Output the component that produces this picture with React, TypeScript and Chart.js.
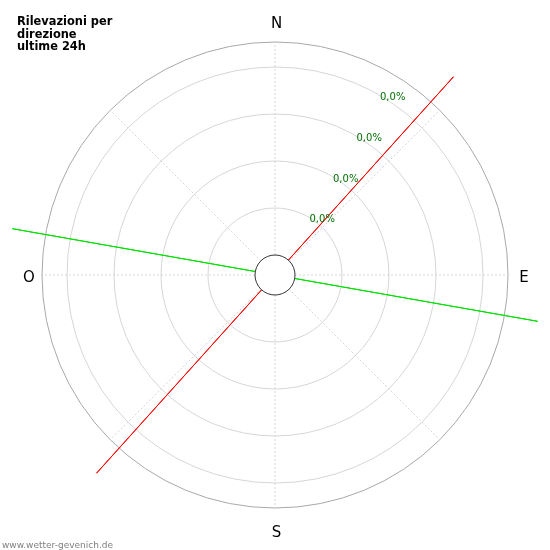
import React, { useEffect, useRef } from 'react';
import { Chart, registerables } from 'chart.js';

Chart.register(...registerables);

// ---- data ----
const cardinalLabels = ['N', 'E', 'S', 'O'];
const cardinalAngles = [0, 90, 180, 270];
const ringValues = [1, 2, 3, 4];
const ringLabels = ['0,0%', '0,0%', '0,0%', '0,0%'];
const seriesAngles = [42, 100];
const seriesValues = [5.25, 5.25];
const seriesColors = ['#ff0000', '#00e000'];
const titleLines = ['Rilevazioni per', 'direzione', 'ultime 24h'];
const footerText = 'www.wetter-gevenich.de';

// ---- scale setup ----
const DIRECTIONS = 360;
const SCALE_MIN = -20 / 47;
const SCALE_MAX = 213 / 47;
const LABEL_ANGLE = 30;

const angleIndex = Array.from({ length: DIRECTIONS }, (_, i) => String(i));

function lineData(angle: number, value: number) {
  const arr: (number | null)[] = new Array(DIRECTIONS).fill(null);
  arr[angle % DIRECTIONS] = value;
  arr[(angle + 180) % DIRECTIONS] = value;
  return arr;
}

const overlayPlugin = {
  id: 'overlay',
  afterDatasetsDraw(chart: any) {
    const s = chart.scales.r;
    const ctx = chart.ctx;
    const r0 = s.getDistanceFromCenterForValue(0);
    ctx.save();
    ctx.beginPath();
    ctx.arc(s.xCenter, s.yCenter, r0, 0, Math.PI * 2);
    ctx.fillStyle = '#ffffff';
    ctx.fill();
    ctx.lineWidth = 1;
    ctx.strokeStyle = '#333333';
    ctx.stroke();
    ctx.restore();
  },
  afterDraw(chart: any) {
    const s = chart.scales.r;
    const ctx = chart.ctx;
    const outer = s.getDistanceFromCenterForValue(SCALE_MAX);
    ctx.save();
    // ring labels
    ctx.font = '10px "DejaVu Sans"';
    ctx.fillStyle = '#007000';
    ctx.textAlign = 'left';
    ctx.textBaseline = 'alphabetic';
    ringValues.forEach((v, i) => {
      const p = s.getPointPosition(LABEL_ANGLE, s.getDistanceFromCenterForValue(v));
      ctx.fillText(ringLabels[i], p.x + 1, p.y + 5.5);
    });
    // cardinal labels
    ctx.font = '15px "DejaVu Sans"';
    ctx.fillStyle = '#000000';
    ctx.textAlign = 'center';
    cardinalLabels.forEach((lab, i) => {
      const a = cardinalAngles[i];
      const extra = a % 180 === 0 ? 21.5 : 14.5;
      const p = s.getPointPosition(a, outer + extra);
      ctx.fillText(lab, p.x + 1.5, p.y + 7);
    });
    // title
    ctx.font = 'bold 11.4px "DejaVu Sans"';
    ctx.textAlign = 'left';
    ctx.fillStyle = '#000000';
    titleLines.forEach((t, i) => ctx.fillText(t, 17, 25 + i * 12.5));
    // footer
    ctx.font = '9px "DejaVu Sans"';
    ctx.fillStyle = '#808080';
    ctx.fillText(footerText, 2, 548);
    ctx.restore();
  },
};

export default function App() {
  const ref = useRef<HTMLCanvasElement>(null);
  useEffect(() => {
    if (!ref.current) return;
    const chart = new Chart(ref.current, {
      type: 'radar',
      data: {
        labels: angleIndex,
        datasets: seriesAngles.map((a, i) => ({
          data: lineData(a, seriesValues[i]),
          borderColor: seriesColors[i],
          backgroundColor: 'rgba(0,0,0,0)',
          borderWidth: 1,
          pointRadius: 0,
          pointHoverRadius: 0,
          fill: false,
          spanGaps: true,
          tension: 0,
          clip: false,
        })),
      } as any,
      options: {
        responsive: false,
        animation: false,
        layout: { padding: 42 },
        plugins: { legend: { display: false }, tooltip: { enabled: false } },
        scales: {
          r: {
            min: SCALE_MIN,
            max: SCALE_MAX,
            startAngle: 0,
            ticks: { display: false },
            pointLabels: { display: false },
            afterBuildTicks: (sc: any) => {
              sc.ticks = [0, ...ringValues, SCALE_MAX].map((v) => ({ value: v }));
            },
            grid: {
              circular: true,
              lineWidth: 1,
              color: (c: any) =>
                c.tick && c.tick.value >= SCALE_MAX - 1e-6
                  ? '#a8a8a8'
                  : c.tick && c.tick.value === 0
                  ? 'rgba(0,0,0,0)'
                  : '#d6d6d6',
            },
            angleLines: {
              borderDash: [2, 2],
              color: (c: any) => (c.index % 45 === 0 ? '#cccccc' : 'rgba(0,0,0,0)'),
              lineWidth: (c: any) => (c.index % 45 === 0 ? 0.8 : 0),
            },
          } as any,
        },
      },
      plugins: [overlayPlugin],
    });
    return () => chart.destroy();
  }, []);
  return (
    <div style={{ position: 'fixed', left: 0, top: 0, width: 550, height: 550, background: '#fff' }}>
      <canvas ref={ref} width={550} height={550} style={{ display: 'block' }} />
    </div>
  );
}
